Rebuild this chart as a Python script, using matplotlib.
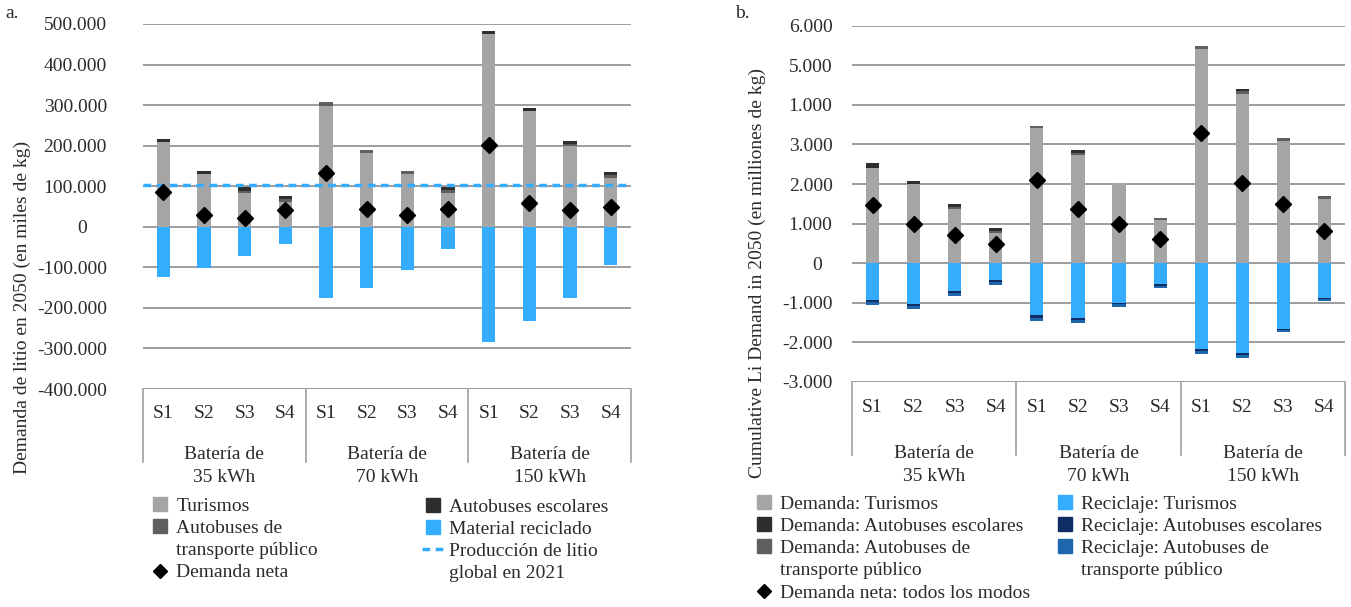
import matplotlib
matplotlib.use("Agg")
import matplotlib.pyplot as plt
from matplotlib.lines import Line2D
import numpy as np

plt.rcParams['font.family'] = ['Liberation Serif', 'DejaVu Serif']

# categorias
escenarios = ['S1', 'S2', 'S3', 'S4']
baterias = ['Batería de\n35 kWh', 'Batería de\n70 kWh', 'Batería de\n150 kWh']

# panel a (miles de kg)
turismos_a = [210000, 131000, 84000, 62000, 299000, 183000, 129000, 83000, 475000, 286000, 200000, 121000]
publico_a = [0, 0, 5000, 7500, 9000, 7500, 7500, 7500, 0, 0, 5000, 7500]
escolares_a = [7000, 7500, 8000, 7500, 0, 0, 0, 7500, 7500, 7500, 7500, 7500]
reciclado_a = [-125000, -102000, -73000, -43000, -176000, -152000, -107000, -56000, -284000, -233000, -176000, -95000]
neta_a = [86000, 29000, 22000, 41000, 132000, 43000, 30000, 44000, 201000, 58000, 41000, 48000]
produccion_2021 = 104000
yticks_a = [-400000, -300000, -200000, -100000, 0, 100000, 200000, 300000, 400000, 500000]
ylabels_a = ['-400.000', '-300.000', '-200.000', '-100.000', '0    ', '100.000', '200.000', '300.000', '400.000', '500.000']

# panel b (millones de kg)
turismos_b = [2400, 2000, 1380, 770, 3415, 2730, 2015, 1100, 5400, 4280, 3085, 1610]
publico_b = [0, 0, 50, 50, 50, 65, 10, 50, 75, 60, 75, 100]
escolares_b = [125, 70, 75, 75, 0, 60, 0, 0, 0, 70, 0, 0]
rec_tur_b = [-925, -1025, -695, -415, -1305, -1380, -1000, -515, -2170, -2270, -1655, -875]
rec_esc_b = [-50, -50, -50, -50, -70, -50, -35, -50, -50, -50, -35, -35]
rec_pub_b = [-75, -75, -75, -75, -85, -75, -70, -50, -75, -75, -50, -40]
neta_b = [1475, 990, 720, 485, 2100, 1380, 990, 620, 3290, 2015, 1500, 815]
yticks_b = [-3000, -2000, -1000, 0, 1000, 2000, 3000, 4000, 5000, 6000]
ylabels_b = ['-3.000', '-2.000', '-1.000', '0  ', '1.000', '2.000', '3.000', '1.000', '5.000', '6.000']

c_tur = '#a5a5a5'
c_esc = '#2e2e2e'
c_pub = '#5f5f5f'
c_rec = '#35adff'
c_rec_esc = '#0e2d64'
c_rec_pub = '#1f67ad'
FS = 14
TXT = '#2b2b2b'

W, H = 1351, 607
fig = plt.figure(figsize=(W / 100, H / 100), dpi=100)


def px_axes(x0, x1, ytop, ybot):
    return fig.add_axes([x0 / W, 1 - ybot / H, (x1 - x0) / W, (ybot - ytop) / H])


def estilo(ax, yticks, ylabels, pad, s_off, g_off, box):
    x = np.arange(12)
    ax.set_xlim(-0.5, 11.5)
    ax.set_ylim(yticks[0], yticks[-1])
    ax.set_yticks(yticks)
    ax.set_yticklabels(ylabels, fontsize=FS, color=TXT)
    ax.tick_params(axis='y', length=0, pad=pad)
    ax.set_xticks([])
    for s in ax.spines.values():
        s.set_visible(False)
    ax.yaxis.grid(True, color='#8c8c8c', lw=1.2)
    ax.set_axisbelow(True)
    tr = ax.get_xaxis_transform()
    for xv in [-0.5, 3.5, 7.5, 11.5]:
        ax.plot([xv, xv], [0, -box], color='#a0a0a0', lw=1.2, transform=tr, clip_on=False)
    for i in x:
        ax.text(i, -s_off, escenarios[i % 4], transform=tr, ha='center', va='center',
                fontsize=FS, color=TXT)
    for g, lab in enumerate(baterias):
        ax.text(4 * g + 1.5, -g_off, lab, transform=tr, ha='center', va='center',
                fontsize=FS, color=TXT, linespacing=1.5)
    return x


# ---- panel a ----
ax1 = px_axes(143, 631, 24, 389)
x = estilo(ax1, yticks_a, ylabels_a, 26, 25 / 365, 77 / 365, 73 / 365)
bw = 0.32
ax1.bar(x, turismos_a, bw, color=c_tur)
b2 = np.array(turismos_a)
ax1.bar(x, publico_a, bw, bottom=b2, color=c_pub)
b2 = b2 + np.array(publico_a)
ax1.bar(x, escolares_a, bw, bottom=b2, color=c_esc)
ax1.bar(x, reciclado_a, bw, color=c_rec)
ax1.axhline(produccion_2021, color=c_rec, lw=2.5, ls=(0, (2.2, 1.6)))
ax1.plot(x, neta_a, 'D', color='black', markersize=8.5, ls='none')
fig.text(22 / W, 1 - 307 / H, 'Demanda de litio en 2050 (en miles de kg)', rotation=90,
         ha='center', va='center', fontsize=FS, color=TXT)
fig.text(5 / W, 1 - 14 / H, 'a.', fontsize=FS, color=TXT, va='center')

# ---- panel b ----
ax2 = px_axes(852, 1345, 25.7, 382)
x = estilo(ax2, yticks_b, ylabels_b, 14, 25 / 356, 83 / 356, 73 / 356)
ax2.bar(x, turismos_b, bw, color=c_tur)
b2 = np.array(turismos_b)
ax2.bar(x, publico_b, bw, bottom=b2, color=c_pub)
b2 = b2 + np.array(publico_b)
ax2.bar(x, escolares_b, bw, bottom=b2, color=c_esc)
ax2.bar(x, rec_tur_b, bw, color=c_rec)
b2 = np.array(rec_tur_b)
ax2.bar(x, rec_esc_b, bw, bottom=b2, color=c_rec_esc)
b2 = b2 + np.array(rec_esc_b)
ax2.bar(x, rec_pub_b, bw, bottom=b2, color=c_rec_pub)
ax2.plot(x, neta_b, 'D', color='black', markersize=8.5, ls='none')
fig.text(757 / W, 1 - 273 / H, 'Cumulative Li Demand in 2050 (en milliones de kg)', rotation=90,
         ha='center', va='center', fontsize=FS, color=TXT)
fig.text(735 / W, 1 - 14 / H, 'b.', fontsize=FS, color=TXT, va='center')


# ---- leyendas ----
def sq(c):
    return Line2D([], [], marker='s', ls='none', markersize=10, color=c)


dia = Line2D([], [], marker='D', ls='none', markersize=7, color='black')
dash = Line2D([], [], color=c_rec, lw=2.5, ls=(0, (2.2, 1.6)))
nada = Line2D([], [], ls='none')  # segunda linea de una etiqueta


def leyenda(handles, labels, x0, y0):
    lg = fig.legend(handles, labels, loc='upper left', bbox_to_anchor=(x0 / W, 1 - y0 / H),
                    frameon=False, fontsize=FS, handlelength=1.1, handletextpad=0.3,
                    labelspacing=0.24, borderpad=0, borderaxespad=0)
    for t in lg.get_texts():
        t.set_color(TXT)
    return lg


leyenda([sq(c_tur), sq(c_pub), nada, dia],
        ['Turismos', 'Autobuses de', 'transporte público', 'Demanda neta'], 149, 497)
leyenda([sq(c_esc), sq(c_rec), dash, nada],
        ['Autobuses escolares', 'Material reciclado', 'Producción de litio', 'global en 2021'], 422, 498)
leyenda([sq(c_tur), sq(c_esc), sq(c_pub), nada, dia],
        ['Demanda: Turismos', 'Demanda: Autobuses escolares',
         'Demanda: Autobuses de', 'transporte público', 'Demanda neta: todos los modos'], 753, 495)
leyenda([sq(c_rec), sq(c_rec_esc), sq(c_rec_pub), nada],
        ['Reciclaje: Turismos', 'Reciclaje: Autobuses escolares',
         'Reciclaje: Autobuses de', 'transporte público'], 1054, 495)

fig.savefig('out.png', dpi=100)
